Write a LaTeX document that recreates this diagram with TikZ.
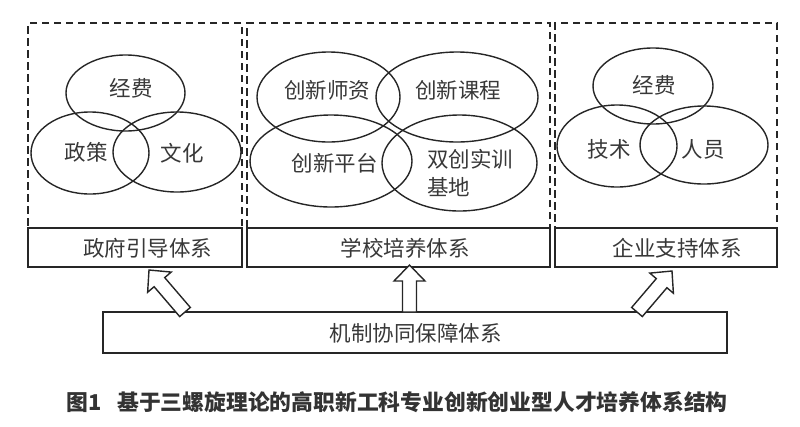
\documentclass[tikz,border=0pt]{standalone}
\usepackage{fontspec}
\newfontfamily\cjk{Noto Sans CJK SC}
\usetikzlibrary{shapes.geometric,calc}

% hollow block arrow from #1 (base) to #2 (tip)
\newcommand{\fatarrow}[2]{%
  \coordinate (h) at ($(#2)!16pt!(#1)$);
  \draw[fat] ($(#1)!7pt!90:(#2)$) -- ($(h)!7pt!90:(#2)$) -- ($(h)!15.5pt!90:(#2)$) -- (#2)
    -- ($(h)!15.5pt!-90:(#2)$) -- ($(h)!7pt!-90:(#2)$) -- ($(#1)!7pt!-90:(#2)$) -- cycle;}

\begin{document}
\begin{tikzpicture}[x=1pt,y=-1pt,
  every node/.style={inner sep=0pt},
  txt/.style={font=\cjk\fontsize{21.5}{24}\selectfont, text=black!78},
  panel/.style={draw=black!85, line width=2.5pt, dash pattern=on 7.5pt off 4.5pt, minimum height=205pt},
  sysbox/.style={draw=black!85, line width=1.6pt, minimum height=39pt},
  ring/.style={ellipse, draw=black!85, line width=1.4pt},
  fat/.style={draw=black!85, line width=1.4pt, fill=white, line join=miter}]

  \useasboundingbox (0,0) rectangle (800,426);

  % dashed panels
  \node[panel, minimum width=214pt] (govpanel) at (135,125.5) {};
  \node[panel, minimum width=303pt] (schpanel) at (398.5,125.5) {};
  \node[panel, minimum width=222pt] (entpanel) at (666,125.5) {};

  % government
  \node[ring, minimum width=119pt, minimum height=76pt] (govfund) at (125.5,93) {};
  \node[ring, minimum width=118pt, minimum height=82pt] (govpol) at (90,153) {};
  \node[ring, minimum width=128pt, minimum height=80pt] (govcul) at (177,152) {};
  \node[txt] (govfundtxt) at (131,88) {经费};
  \node[txt] (govpoltxt) at (86,152) {政策};
  \node[txt] (govcultxt) at (182,153) {文化};

  % school
  \node[ring, minimum width=143pt, minimum height=90pt] (schtch) at (328.5,97) {};
  \node[ring, minimum width=162pt, minimum height=90pt] (schcrs) at (457,97) {};
  \node[ring, minimum width=162pt, minimum height=92pt] (schplf) at (331,161) {};
  \node[ring, minimum width=155pt, minimum height=96pt] (schbas) at (459.5,163) {};
  \node[txt] (schtchtxt) at (327,90) {创新师资};
  \node[txt] (schcrstxt) at (458,90) {创新课程};
  \node[txt] (schplftxt) at (334.5,163) {创新平台};
  \node[txt, align=left, anchor=west, font=\cjk\fontsize{21.5}{28}\selectfont] (schbastxt) at (427,173) {双创实训\\基地};

  % enterprise
  \node[ring, minimum width=120pt, minimum height=76pt] (entfund) at (653,86) {};
  \node[ring, minimum width=120pt, minimum height=82pt] (enttec) at (617,146) {};
  \node[ring, minimum width=128pt, minimum height=78pt] (entstf) at (704,145) {};
  \node[txt] (entfundtxt) at (654,85) {经费};
  \node[txt] (enttectxt) at (609,149) {技术};
  \node[txt] (entstftxt) at (703,149) {人员};

  % system boxes
  \node[sysbox, minimum width=214pt] (govbox) at (135,247.5) {};
  \node[sysbox, minimum width=303pt] (schbox) at (398.5,247.5) {};
  \node[sysbox, minimum width=222pt] (entbox) at (666,247.5) {};
  \node[txt] (govboxtxt) at (147.5,248) {政府引导体系};
  \node[txt] (schboxtxt) at (405,248) {学校培养体系};
  \node[txt] (entboxtxt) at (677,248) {企业支持体系};

  \node[sysbox, minimum width=624pt, minimum height=41pt] (mechbox) at (415,332.5) {};
  \node[txt] (mechboxtxt) at (415.5,333) {机制协同保障体系};

  % arrows
  \coordinate (govfoot) at (185,312);
  \coordinate (govtip) at (149,270);
  \coordinate (schfoot) at (409.5,312);
  \coordinate (schtip) at (409.5,265);
  \coordinate (entfoot) at (637,312);
  \coordinate (enttip) at (672,271);
  \fatarrow{govfoot}{govtip}
  \fatarrow{schfoot}{schtip}
  \fatarrow{entfoot}{enttip}

  % caption
  \node[anchor=west, font=\cjk\bfseries\fontsize{21.8}{24}\selectfont, text=black!80] (caption) at (66,402)
    {图1\hspace{16pt}基于三螺旋理论的高职新工科专业创新创业型人才培养体系结构};
\end{tikzpicture}
\end{document}
